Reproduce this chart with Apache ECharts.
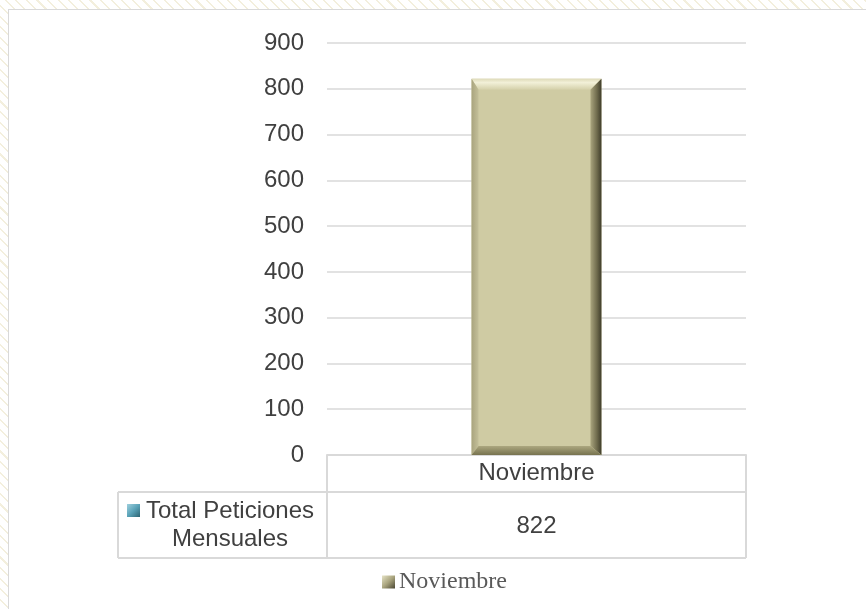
<!DOCTYPE html>
<html>
<head>
<meta charset="utf-8">
<script src="https://cdn.jsdelivr.net/npm/echarts@6/dist/echarts.min.js"></script>
<style>
  html, body { margin: 0; padding: 0; }
  body {
    width: 866px; height: 609px; overflow: hidden; position: relative;
    background-color: #ffffff;
    background-image: repeating-linear-gradient(45deg, rgba(255,255,255,0) 0px, rgba(255,255,255,0) 6px, #f3efdd 6px, #f3efdd 7.5px);
  }
  #panel {
    position: absolute; left: 8px; top: 9px; width: 870px; height: 620px;
    background: #ffffff; border: 1.5px solid #d9d9d9; box-sizing: border-box;
  }
  #chart { position: absolute; left: 0; top: 0; width: 866px; height: 609px; }
</style>
</head>
<body>
<div id="panel"></div>
<div id="chart"></div>
<script>
// ---- data ----
const categories = ['Noviembre'];
const seriesName = 'Total Peticiones Mensuales';
const seriesLabelLines = ['Total Peticiones', 'Mensuales'];
const values = [822];
const yTicks = { min: 0, max: 900, interval: 100 };

const chart = echarts.init(document.getElementById('chart'), null, { renderer: 'canvas' });

const txtColor = '#404040';
const lineColor = '#d9d9d9';
const sansFont = '"Liberation Sans", Arial, sans-serif';
const fs = 24;

function renderBevelBar(params, api) {
  const idx = api.value(0);
  const v = api.value(1);
  const top = api.coord([idx, v]);
  const base = api.coord([idx, 0]);
  const band = api.size([1, 0])[0];
  const bw = band * 0.31;
  const x0 = top[0] - bw / 2, x1 = top[0] + bw / 2;
  const y0 = top[1], y1 = base[1];
  const bt = 11, bl = 7, br = 11, bb = 9;
  return {
    type: 'group',
    children: [
      { type: 'rect', shape: { x: x0, y: y0, width: x1 - x0, height: y1 - y0 },
        style: { fill: '#cfcba3' } },
      { type: 'polygon', shape: { points: [[x0, y0], [x1, y0], [x1 - br, y0 + bt], [x0 + bl, y0 + bt]] },
        style: { fill: new echarts.graphic.LinearGradient(0, 0, 0, 1, [
          { offset: 0, color: '#dedbb9' }, { offset: 0.35, color: '#f2f0d8' }, { offset: 1, color: '#d4d0aa' }]) } },
      { type: 'polygon', shape: { points: [[x0, y0], [x0 + bl, y0 + bt], [x0 + bl, y1 - bb], [x0, y1]] },
        style: { fill: new echarts.graphic.LinearGradient(0, 0, 1, 0, [
          { offset: 0, color: '#a9a47e' }, { offset: 1, color: '#c4c09a' }]) } },
      { type: 'polygon', shape: { points: [[x1, y0], [x1, y1], [x1 - br, y1 - bb], [x1 - br, y0 + bt]] },
        style: { fill: new echarts.graphic.LinearGradient(0, 0, 1, 0, [
          { offset: 0, color: '#aaa57e' }, { offset: 0.6, color: '#6e6a4c' }, { offset: 1, color: '#3e3c2a' }]) } },
      { type: 'polygon', shape: { points: [[x0, y1], [x0 + bl, y1 - bb], [x1 - br, y1 - bb], [x1, y1]] },
        style: { fill: new echarts.graphic.LinearGradient(0, 0, 0, 1, [
          { offset: 0, color: '#aca77f' }, { offset: 1, color: '#77734f' }]) } }
    ]
  };
}

// data table geometry (layout only)
const tblLeft = 118, tblRight = 746, gridLeft = 327, baseY = 455, rowY = 492, tblBottom = 558;
const tableGraphics = [
  { type: 'line', shape: { x1: gridLeft, y1: baseY, x2: gridLeft, y2: tblBottom }, style: { stroke: lineColor, lineWidth: 2 } },
  { type: 'line', shape: { x1: tblRight, y1: baseY, x2: tblRight, y2: tblBottom }, style: { stroke: lineColor, lineWidth: 2 } },
  { type: 'line', shape: { x1: tblLeft, y1: rowY, x2: tblRight, y2: rowY }, style: { stroke: lineColor, lineWidth: 2 } },
  { type: 'line', shape: { x1: tblLeft, y1: tblBottom, x2: tblRight, y2: tblBottom }, style: { stroke: lineColor, lineWidth: 2 } },
  { type: 'line', shape: { x1: tblLeft, y1: rowY, x2: tblLeft, y2: tblBottom }, style: { stroke: lineColor, lineWidth: 2 } },
  // series icon
  { type: 'rect', shape: { x: 127, y: 504, width: 13, height: 13 },
    style: { fill: new echarts.graphic.LinearGradient(0, 0, 1, 1, [
      { offset: 0, color: '#9fd0de' }, { offset: 0.5, color: '#5aa3b8' }, { offset: 1, color: '#2c6473' }]) } },
  { type: 'text', x: 230, y: 511, style: { text: seriesLabelLines[0], fill: txtColor, font: fs + 'px ' + sansFont, textAlign: 'center', textVerticalAlign: 'middle' } },
  { type: 'text', x: 230, y: 539, style: { text: seriesLabelLines[1], fill: txtColor, font: fs + 'px ' + sansFont, textAlign: 'center', textVerticalAlign: 'middle' } }
];
values.forEach(function (v, i) {
  const w = (tblRight - gridLeft) / categories.length;
  tableGraphics.push({ type: 'text', x: gridLeft + w * (i + 0.5), y: 526,
    style: { text: String(v), fill: txtColor, font: fs + 'px ' + sansFont, textAlign: 'center', textVerticalAlign: 'middle' } });
});

chart.setOption({
  animation: false,
  backgroundColor: 'transparent',
  grid: { left: 327, right: 120, top: 43, bottom: 154, containLabel: false },
  xAxis: {
    type: 'category', data: categories,
    axisLine: { show: true, lineStyle: { color: lineColor, width: 2 } },
    axisTick: { show: false },
    axisLabel: { color: txtColor, fontSize: fs, fontFamily: sansFont, margin: 6 }
  },
  yAxis: {
    type: 'value', min: yTicks.min, max: yTicks.max, interval: yTicks.interval,
    axisLine: { show: false }, axisTick: { show: false },
    splitLine: { lineStyle: { color: lineColor, width: 1.5 } },
    axisLabel: { color: txtColor, fontSize: fs, fontFamily: sansFont, margin: 23 }
  },
  legend: {
    left: 377, top: 565,
    itemWidth: 13, itemHeight: 13, itemGap: 5,
    icon: 'rect',
    textStyle: { color: '#595959', fontSize: 24, fontFamily: '"Liberation Serif", "DejaVu Serif", serif', padding: [0, 0, 0, -1] },
    data: [{ name: categories[0], itemStyle: { color: new echarts.graphic.LinearGradient(0, 0, 1, 1, [
      { offset: 0, color: '#e6e3c6' }, { offset: 0.5, color: '#a9a47e' }, { offset: 1, color: '#4a4733' }]) } }]
  },
  series: [{
    name: categories[0],
    type: 'custom',
    renderItem: renderBevelBar,
    encode: { x: 0, y: 1 },
    data: values.map(function (v, i) { return [i, v]; })
  }],
  graphic: tableGraphics
});
</script>
</body>
</html>
